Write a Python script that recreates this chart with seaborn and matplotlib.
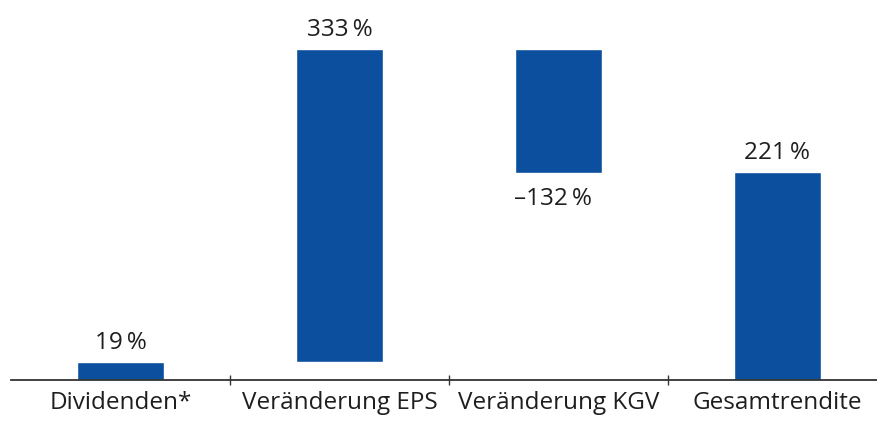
import numpy as np
import pandas as pd
import matplotlib
matplotlib.use('Agg')
import matplotlib.pyplot as plt
import seaborn as sns

# data
categories = ['Dividenden*', 'Veränderung EPS', 'Veränderung KGV', 'Gesamtrendite']
changes = [19, 333, -132, 221]
is_total = [False, False, False, True]
labels = ['19\u2009%', '333\u2009%', '\u2013132\u2009%', '221\u2009%']

# waterfall bases
bottoms = []
running = 0
for c, tot in zip(changes, is_total):
    if tot:
        bottoms.append(0)
    else:
        bottoms.append(running)
        running += c

df = pd.DataFrame({'cat': categories, 'change': changes, 'bottom': bottoms})

sns.set_style('white')
plt.rcParams['font.family'] = ['Open Sans', 'DejaVu Sans']

fig = plt.figure(figsize=(8.77, 4.22), dpi=100)
ax = fig.add_axes([11 / 877, 42 / 422, 876 / 877, 380 / 422])

sns.barplot(data=df, x='cat', y='change', bottom=df['bottom'].values,
            color='#0b4f9e', width=0.4, saturation=1, ax=ax)

ax.set_xlim(-0.5, 3.5)
ax.set_ylim(0, 404)
ax.set_xlabel('')
ax.set_ylabel('')
ax.set_yticks([])

for s in ['top', 'right', 'left']:
    ax.spines[s].set_visible(False)
ax.spines['bottom'].set_color('#333333')
ax.spines['bottom'].set_linewidth(1.3)

fs = 17.5
ax.set_xticks(range(len(categories)))
ax.set_xticklabels(categories, fontsize=fs, color='#1e1e1e')
ax.tick_params(axis='x', which='major', length=0, pad=8)
ax.set_xticks(np.arange(0.5, len(categories) - 1, 1), minor=True)
ax.tick_params(axis='x', which='minor', bottom=True, length=7, direction='inout',
               color='#333333', width=1)

for i, (c, b, lab) in enumerate(zip(changes, bottoms, labels)):
    top = b + c
    if c >= 0:
        ax.annotate(lab, (i, top), xytext=(0, 13.5), textcoords='offset points',
                    ha='center', va='center', fontsize=fs, color='#1e1e1e')
    else:
        ax.annotate(lab, (i, top), xytext=(-4, -18.5), textcoords='offset points',
                    ha='center', va='center', fontsize=fs, color='#1e1e1e')

fig.savefig('out.png', dpi=100)
